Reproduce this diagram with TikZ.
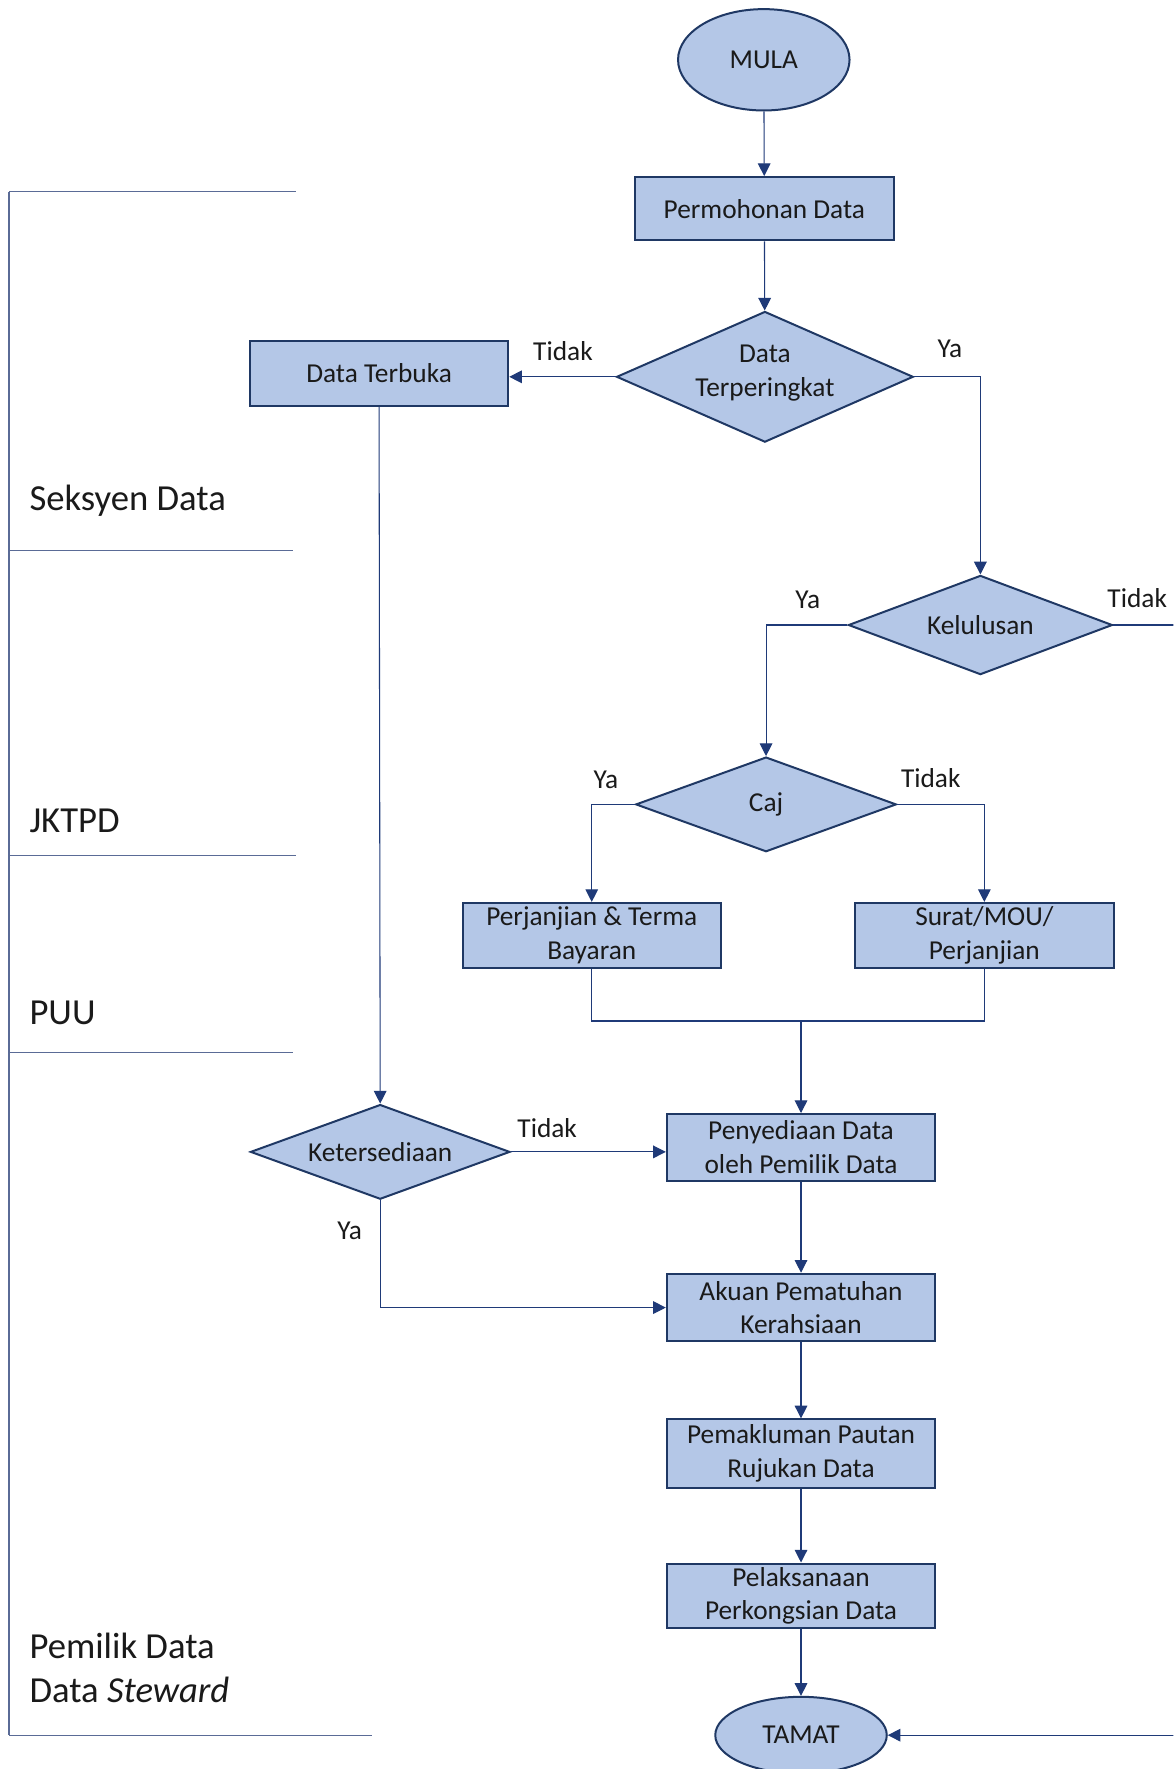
\documentclass[tikz,border=0pt]{standalone}
\usepackage{fontspec}
\setmainfont{Carlito}
\usetikzlibrary{shapes.geometric, arrows.meta, calc}

\definecolor{boxfill}{HTML}{B4C7E7}
\definecolor{boxline}{HTML}{1F3864}
\definecolor{flow}{HTML}{1F3A78}
\definecolor{lane}{HTML}{5A6B96}
\definecolor{ink}{HTML}{1A1A1A}

\begin{document}
\begin{tikzpicture}[x=0.846pt, y=-0.846pt,
  every node/.style={font=\fontsize{20.5}{25.4}\selectfont, text=ink},
  procbox/.style={draw=boxline, line width=1.5pt, fill=boxfill, rectangle,
    inner sep=0pt, align=center, minimum width=193.7pt, minimum height=48.5pt},
  widebox/.style={procbox, minimum width=201.3pt, minimum height=50pt},
  decision/.style={draw=boxline, line width=1.5pt, fill=boxfill, diamond, inner sep=0pt},
  terminal/.style={draw=boxline, line width=1.5pt, fill=boxfill, ellipse,
    inner sep=0pt, minimum width=128.6pt},
  flowline/.style={draw=flow, line width=0.8pt},
  arrowline/.style={flowline, -{Triangle[length=9.5pt,width=9.5pt]}},
  lanerule/.style={draw=lane, line width=0.8pt},
  lanetext/.style={font=\fontsize{27.5}{33}\selectfont, anchor=west, align=left}
]
\clip (0,0) rectangle (1040,1568);
\fill[white] (0,0) rectangle (1040,1568);

% swimlane frame and lane names
\coordinate (laneTop) at (8,170);
\coordinate (laneBot) at (8,1538);
\draw[lanerule] (laneTop) -- (laneBot);
\draw[lanerule] (laneTop) -- (262,170);
\draw[lanerule] (8,488) -- (260,488);
\draw[lanerule] (8,758) -- (262,758);
\draw[lanerule] (8,933) -- (260,933);
\draw[lanerule] (laneBot) -- (330,1538);

\node[lanetext] (laneA) at (22,444) {Seksyen Data};
\node[lanetext] (laneB) at (22,728) {JKTPD};
\node[lanetext] (laneC) at (22,898) {PUU};
\node[lanetext] (laneD) at (22,1478) {Pemilik Data\\Data \textit{Steward}};

% process nodes
\node[terminal, minimum height=76pt] (mula) at (677,53) {MULA};
\node[procbox, minimum height=47.5pt] (mohon) at (677.5,185) {Permohonan Data};
\node[decision, minimum width=222.5pt, minimum height=98pt,
  label={[align=center, yshift=2.5pt]center:Data\\Terperingkat}] (peringkat) at (678,334) {};
\node[procbox, minimum height=49pt] (terbuka) at (336,331) {Data Terbuka};
\node[decision, minimum width=198pt, minimum height=74.4pt,
  label={center:Kelulusan}] (lulus) at (869,554) {};
\node[decision, minimum width=195.4pt, minimum height=71pt,
  label={center:Caj}] (caj) at (679,713) {};
\node[procbox] (bayaran) at (524.5,829) {Perjanjian \& Terma\\Bayaran};
\node[procbox] (surat) at (872.5,829) {Surat/MOU/\\Perjanjian};
\node[decision, minimum width=194.6pt, minimum height=71pt,
  label={center:Ketersediaan}] (sedia) at (337,1021) {};
\node[widebox] (penyediaan) at (710,1017) {Penyediaan Data\\oleh Pemilik Data};
\node[widebox, minimum height=50.8pt] (akuan) at (710,1159) {Akuan Pematuhan\\Kerahsiaan};
\node[widebox, minimum height=51.5pt] (maklum) at (710,1288.5) {Pemakluman Pautan\\Rujukan Data};
\node[widebox, minimum height=48.5pt] (laksana) at (710,1414.5) {Pelaksanaan\\Perkongsian Data};
\node[terminal, minimum height=57.5pt] (tamat) at (710,1538) {TAMAT};

% connectors
\draw[arrowline] (mula) -- (mohon);
\draw[arrowline] (mohon) -- (peringkat);
\draw[arrowline] (peringkat.west) -- (peringkat.west -| terbuka.east);
\draw[arrowline] (peringkat.east) -| (lulus.north);
\draw[arrowline] (lulus.west) -| (caj.north);
\coordinate (rightTurn) at (1060,554);
\draw[arrowline] (lulus.east) -- (rightTurn) |- (tamat.east);
\draw[arrowline] (caj.west) -| (bayaran.north);
\draw[arrowline] (caj.east) -| (surat.north);
\coordinate (merge) at (710,905);
\draw[flowline] (bayaran.south) |- (merge) -| (surat.south);
\draw[arrowline] (merge) -- (penyediaan.north);
\draw[arrowline] (terbuka.south) -- (sedia.north);
\draw[arrowline] (sedia.east) -- (sedia.east -| penyediaan.west);
\draw[arrowline] (sedia.south) |- (akuan.west);
\draw[arrowline] (penyediaan) -- (akuan);
\draw[arrowline] (akuan) -- (maklum);
\draw[arrowline] (maklum) -- (laksana);
\draw[arrowline] (laksana) -- (tamat);

% branch labels
\node (t1) at (499,311) {Tidak};
\node (y1) at (842,309) {Ya};
\node (y2) at (716,532) {Ya};
\node (t2) at (1008,530) {Tidak};
\node (y3) at (537,691) {Ya};
\node (t3) at (825,690) {Tidak};
\node (t4) at (485,1000) {Tidak};
\node (y4) at (310,1091) {Ya};
\end{tikzpicture}
\end{document}
